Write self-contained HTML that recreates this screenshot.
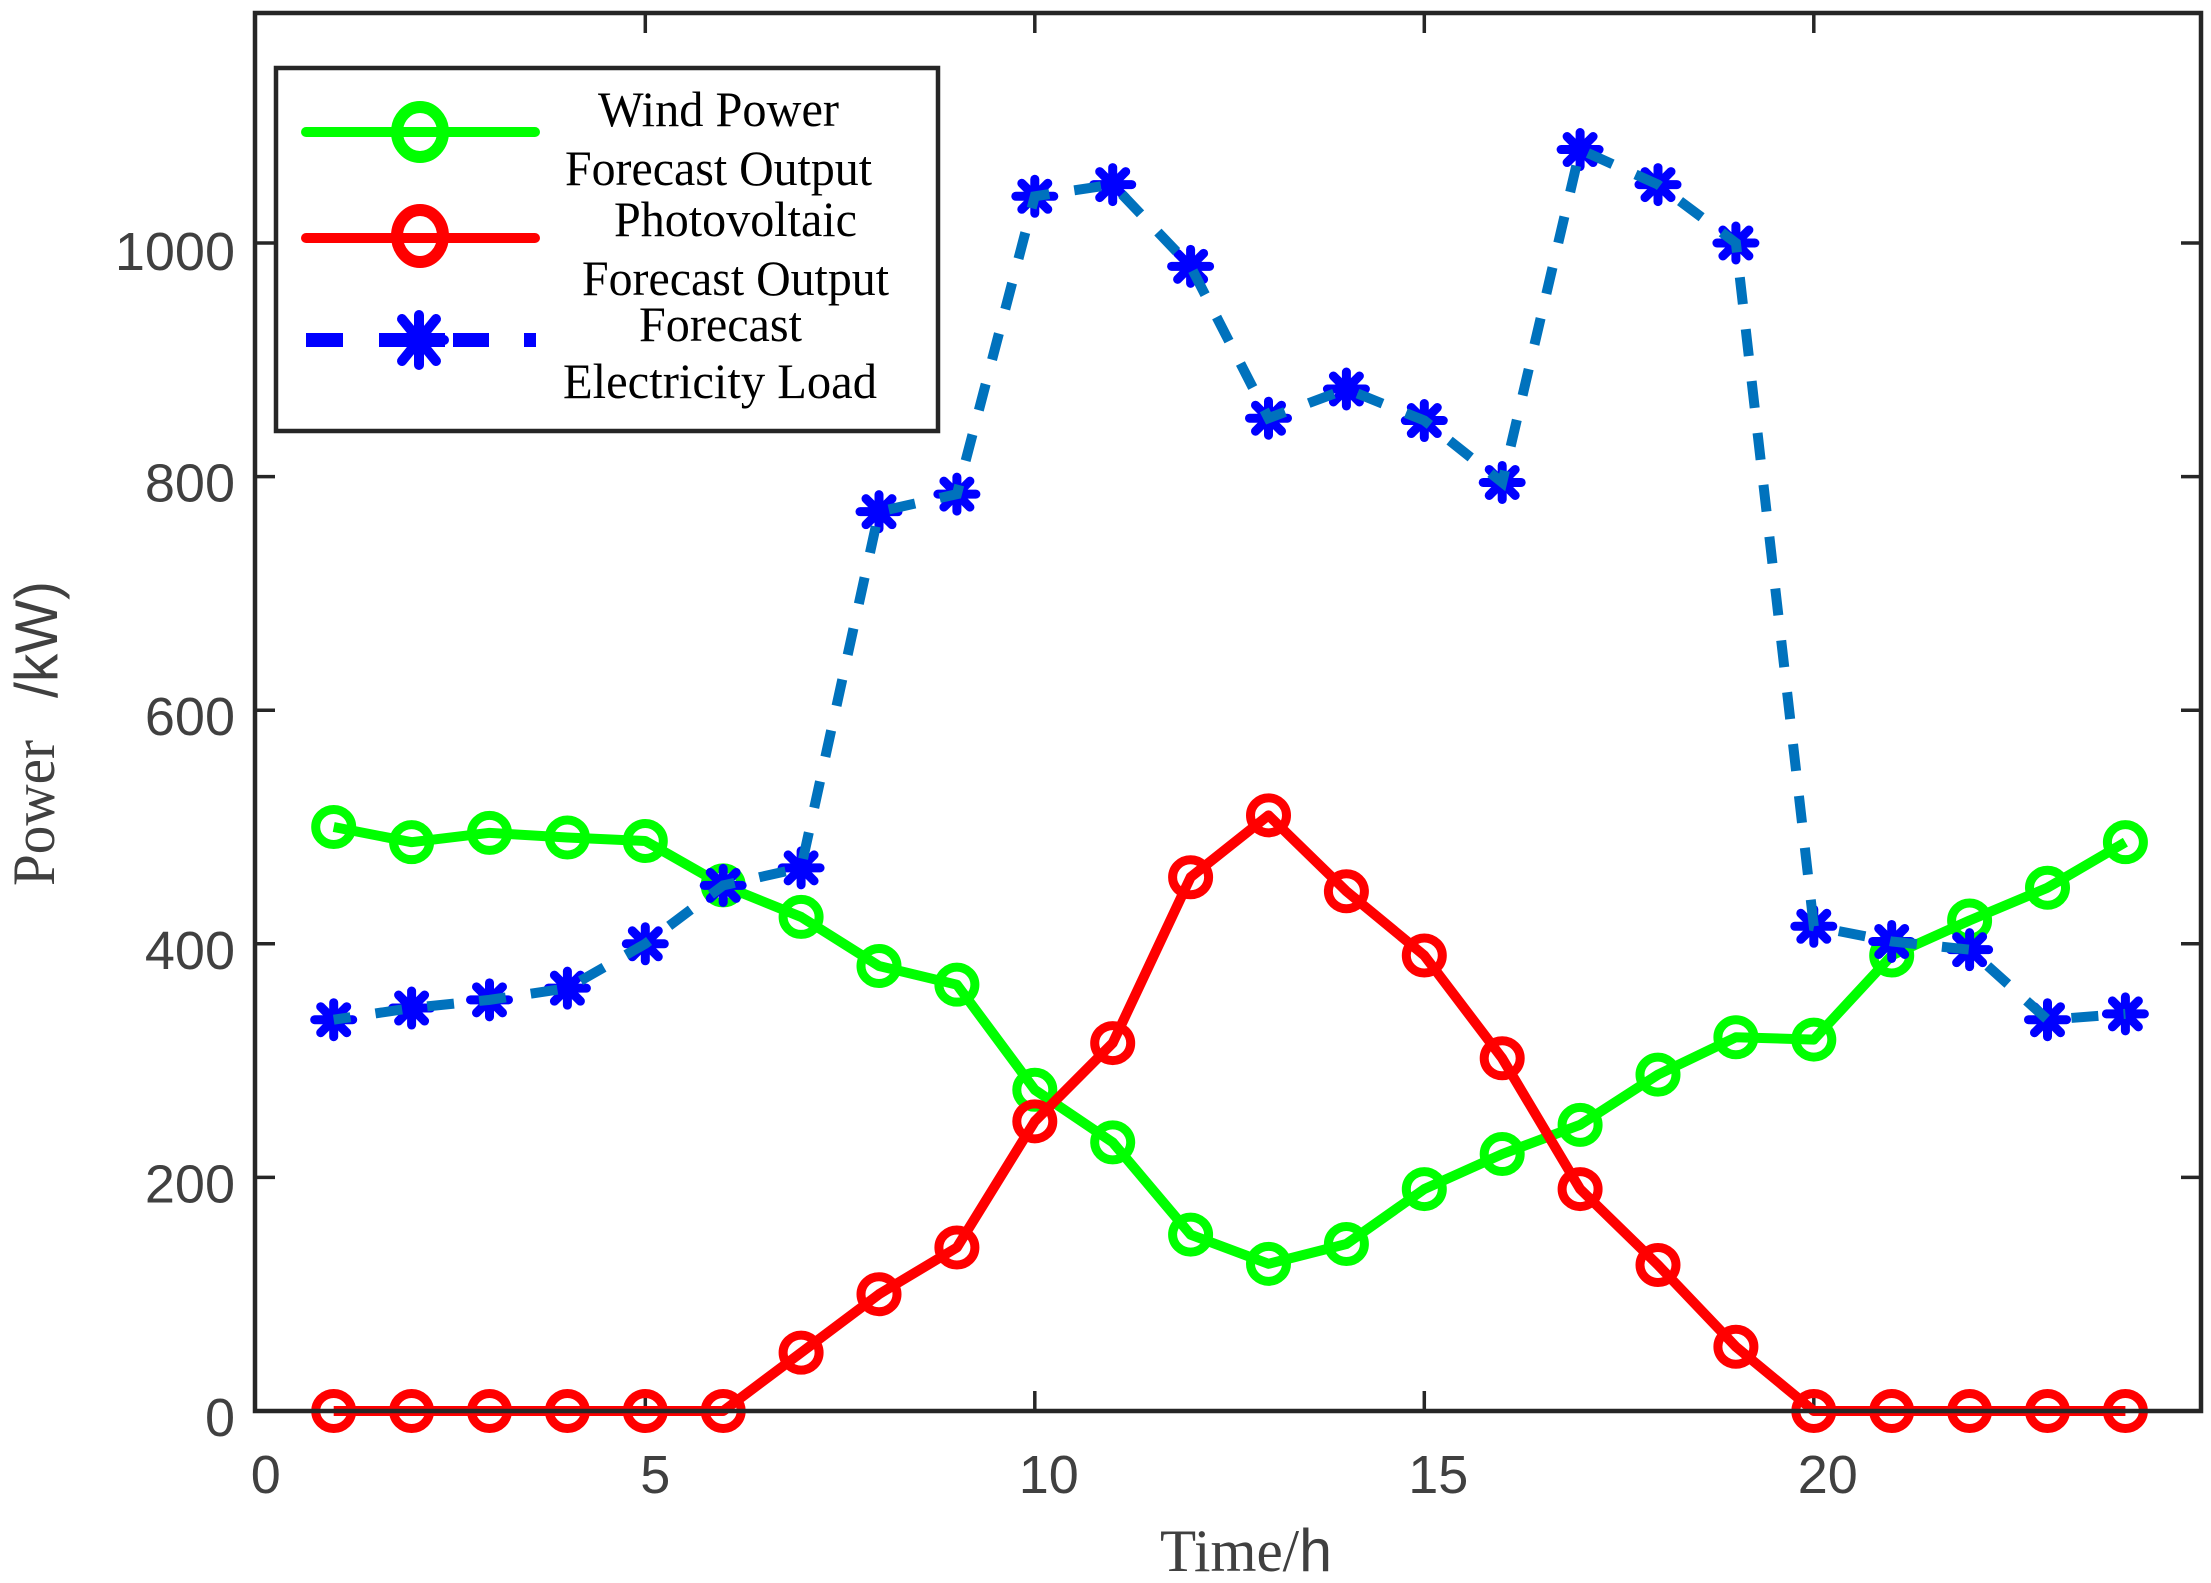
<!DOCTYPE html>
<html lang="en">
<head>
<meta charset="utf-8">
<title>Power forecast chart</title>
<style>
html,body{margin:0;padding:0;background:#fff;width:2211px;height:1583px;overflow:hidden}
svg{display:block}
.tick-label{font-family:"Liberation Sans",sans-serif;font-size:54px;fill:#404040}
.legend-label{font-family:"Liberation Serif",serif;font-size:50px;fill:#000}
.axis-title{font-size:60px;fill:#404040}
</style>
</head>
<body>
<svg id="chart" xmlns="http://www.w3.org/2000/svg" width="2211" height="1583" viewBox="0 0 2211 1583">
  <rect x="0" y="0" width="2211" height="1583" fill="#fff"/>
  <g id="ticks"></g>
  <g id="series"></g>
  <rect x="255" y="13" width="1946" height="1398" fill="none" stroke="#262626" stroke-width="4.5"/>
  <g id="tick-labels"></g>
  <text class="axis-title" x="1160" y="1571" font-family="'Liberation Serif',serif" textLength="172" lengthAdjust="spacingAndGlyphs">Time/<tspan font-family="'Liberation Sans',sans-serif">h</tspan></text>
  <text class="axis-title" transform="translate(54,886) rotate(-90)" font-family="'Liberation Serif',serif" textLength="146" lengthAdjust="spacingAndGlyphs">Power</text>
  <text class="axis-title" transform="translate(57,698) rotate(-90)" font-family="'Liberation Sans',sans-serif" font-size="54" textLength="117" lengthAdjust="spacingAndGlyphs">/kW)</text>

  <g>
    <rect x="276" y="68" width="662" height="363" fill="#fff" stroke="#262626" stroke-width="4.5"/>
    <g>
      <line x1="306" y1="132" x2="535" y2="132" stroke="#00ff00" stroke-width="10" stroke-linecap="round"/>
      <ellipse cx="420" cy="132" rx="23" ry="25" fill="none" stroke="#00ff00" stroke-width="12"/>
      <text class="legend-label" x="598" y="126" textLength="241" lengthAdjust="spacingAndGlyphs">Wind Power</text>
      <text class="legend-label" x="565" y="185" textLength="307" lengthAdjust="spacingAndGlyphs">Forecast Output</text>
    </g>
    <g>
      <line x1="306" y1="238" x2="535" y2="238" stroke="#ff0000" stroke-width="10" stroke-linecap="round"/>
      <ellipse cx="420" cy="236" rx="23" ry="26" fill="none" stroke="#ff0000" stroke-width="12"/>
      <text class="legend-label" x="614" y="236" textLength="243" lengthAdjust="spacingAndGlyphs">Photovoltaic</text>
      <text class="legend-label" x="582" y="295" textLength="307" lengthAdjust="spacingAndGlyphs">Forecast Output</text>
    </g>
    <g>
      <g fill="#0000ff">
        <rect x="306" y="333" width="37" height="14"/>
        <rect x="379" y="333" width="66" height="14"/>
        <rect x="453" y="333" width="36" height="14"/>
        <rect x="524" y="333" width="12" height="14"/>
      </g>
      <g transform="translate(419,340)" stroke="#0000ff" stroke-width="10" stroke-linecap="round">
        <line x1="0" y1="-25" x2="0" y2="25"/>
        <line x1="-25" y1="0" x2="25" y2="0"/>
        <line x1="-17" y1="-21" x2="17" y2="21"/>
        <line x1="-17" y1="21" x2="17" y2="-21"/>
      </g>
      <text class="legend-label" x="639" y="341" textLength="163" lengthAdjust="spacingAndGlyphs">Forecast</text>
      <text class="legend-label" x="563" y="398" textLength="314" lengthAdjust="spacingAndGlyphs">Electricity Load</text>
    </g>
  </g>
</svg>

<script>
const hours = [1,2,3,4,5,6,7,8,9,10,11,12,13,14,15,16,17,18,19,20,21,22,23,24];
const windPower = [500,487,495,491,488,450,423,381,365,275,230,151,126,143,190,220,245,288,320,318,390,420,448,487];
const photovoltaic = [0,0,0,0,0,0,50,100,140,248,315,457,510,445,390,302,190,125,55,0,0,0,0,0];
const electricityLoad = [335,345,352,362,400,450,465,770,785,1040,1050,980,850,875,848,795,1080,1050,1000,415,402,395,335,340];
const xTicks = [0,5,10,15,20];
const yTicks = [0,200,400,600,800,1000];

const NS = 'http://www.w3.org/2000/svg';
const seriesLayer = document.getElementById('series');
const tickLayer = document.getElementById('ticks');
const labelLayer = document.getElementById('tick-labels');

function xScale(v) { return 255.8 + v * 77.9; }
function yScale(v) { return 1411 - v * 1.168; }

function make(tag, attrs, parent) {
  const el = document.createElementNS(NS, tag);
  for (const k in attrs) el.setAttribute(k, attrs[k]);
  parent.appendChild(el);
  return el;
}

function pointsOf(values) {
  return values.map((v, i) => xScale(hours[i]) + ',' + yScale(v)).join(' ');
}

xTicks.forEach(function (t) {
  const x = xScale(t);
  if (t !== 0) {
    const bottom = make('line', {x1: x, x2: x, y1: 1411, y2: 1391, stroke: '#262626', 'stroke-width': 3.5}, tickLayer);
    
    
    const top = make('line', {x1: x, x2: x, y1: 13, y2: 33, stroke: '#262626', 'stroke-width': 3.5}, tickLayer);
    
    
  }
  const label = make('text', {x: x + (t < 10 ? 10 : 14), y: 1493, 'text-anchor': 'middle', class: 'tick-label'}, labelLayer);
  label.textContent = String(t);
  
  
});

yTicks.forEach(function (t) {
  const y = yScale(t);
  if (t !== 0) {
    const left = make('line', {x1: 255, x2: 275, y1: y, y2: y, stroke: '#262626', 'stroke-width': 3.5}, tickLayer);
    
    
    const right = make('line', {x1: 2201, x2: 2181, y1: y, y2: y, stroke: '#262626', 'stroke-width': 3.5}, tickLayer);
    
    
  }
  const label = make('text', {x: 235, y: y + (t === 1000 ? 27 : 25), 'text-anchor': 'end', class: 'tick-label'}, labelLayer);
  label.textContent = String(t);
  
  
});

function drawCircleSeries(values, color) {
  const g = make('g', {}, seriesLayer);
  values.forEach(function (v, i) {
    const c = make('ellipse', {cx: xScale(hours[i]), cy: yScale(v), rx: 18, ry: 17.5, fill: 'none', stroke: color, 'stroke-width': 9}, g);
    
    
  });
  const line = make('polyline', {points: pointsOf(values), fill: 'none', stroke: color, 'stroke-width': 10, 'stroke-linejoin': 'round'}, g);
  
  
  return g;
}

const windGroup = drawCircleSeries(windPower, '#00ff00');



const pvGroup = drawCircleSeries(photovoltaic, '#ff0000');



const loadGroup = make('g', {}, seriesLayer);



electricityLoad.forEach(function (v, i) {
  const star = make('g', {transform: 'translate(' + xScale(hours[i]) + ',' + yScale(v) + ')', stroke: '#0000ff', 'stroke-width': 9, 'stroke-linecap': 'round'}, loadGroup);
  
  
  make('line', {x1: 0, y1: -17, x2: 0, y2: 17}, star);
  make('line', {x1: -19, y1: 0, x2: 19, y2: 0}, star);
  make('line', {x1: -13, y1: -13, x2: 13, y2: 13}, star);
  make('line', {x1: -13, y1: 13, x2: 13, y2: -13}, star);
});

const loadLine = make('polyline', {points: pointsOf(electricityLoad), fill: 'none', stroke: '#0072bd', 'stroke-width': 10, 'stroke-dasharray': '27 25.2', 'stroke-dashoffset': 10}, loadGroup);


</script>
</body>
</html>
